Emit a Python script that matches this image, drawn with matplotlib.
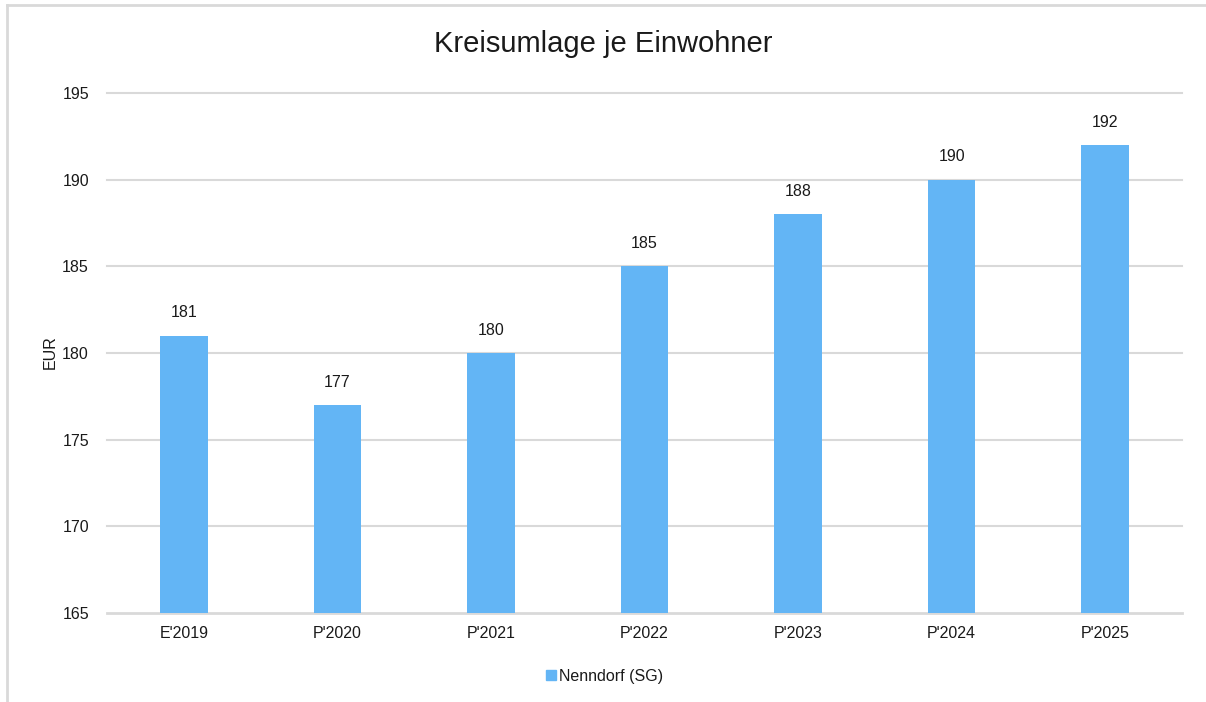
import matplotlib
matplotlib.use("Agg")
import matplotlib.pyplot as plt
from matplotlib.lines import Line2D

categories = ["E'2019", "P'2020", "P'2021", "P'2022", "P'2023", "P'2024", "P'2025"]
values = [181, 177, 180, 185, 188, 190, 192]
yticks = [165, 170, 175, 180, 185, 190, 195]
series_name = "Nenndorf (SG)"
title = "Kreisumlage je Einwohner"
ylabel = "EUR"

plt.rcParams['font.family'] = ['Liberation Sans', 'DejaVu Sans']
bar_color = "#63B5F5"
text_color = "#1a1a1a"
grid_color = "#d9d9d9"
fs = 11.5

fig = plt.figure(figsize=(12.06, 7.02), dpi=100)
ax = fig.add_axes([107/1206, 1 - 613/702, (1182-107)/1206, (613-93)/702])

x = list(range(len(categories)))
ax.bar(x, [v - 165 for v in values], bottom=165, width=0.31, color=bar_color,
       label=series_name, zorder=3)
ax.set_xlim(-0.5, len(categories) - 0.5)
ax.set_ylim(165, 195)
ax.set_yticks(yticks)
ax.set_xticks(x)
ax.set_xticklabels(categories)
ax.tick_params(axis='both', length=0, labelsize=fs, colors=text_color)
ax.tick_params(axis='x', pad=9)
ax.tick_params(axis='y', pad=13)
for t in yticks:
    ax.axhline(t, color=grid_color, linewidth=1.5 if t != 165 else 2, zorder=2 if t == 165 else 0,
               clip_on=False)
for s in ax.spines.values():
    s.set_visible(False)

for xi, v in zip(x, values):
    ax.annotate(str(v), (xi, v), xytext=(0, 11), textcoords='offset points',
                ha='center', va='bottom', fontsize=fs, color=text_color)

fig.text(50/1206, 1 - 352/702, ylabel, rotation=90, ha='center', va='center',
         fontsize=fs, color=text_color)
fig.text(0.5, 1 - 44/702, title, ha='center', va='center', fontsize=21, color=text_color)

handle = Line2D([], [], marker='s', linestyle='none', markersize=7,
                markerfacecolor=bar_color, markeredgecolor=bar_color)
fig.legend([handle], [series_name], loc='center', bbox_to_anchor=(0.5, 1 - 676/702),
           frameon=False, fontsize=fs, handletextpad=0.0, handlelength=1.0,
           labelcolor=text_color)

# frame lines (left and top)
fig.add_artist(Line2D([7/1206, 7/1206], [0, 1 - 5/702], transform=fig.transFigure,
                      color=grid_color, linewidth=2))
fig.add_artist(Line2D([7/1206, 1], [1 - 5/702, 1 - 5/702], transform=fig.transFigure,
                      color=grid_color, linewidth=2))

fig.savefig("out.png", dpi=100)
